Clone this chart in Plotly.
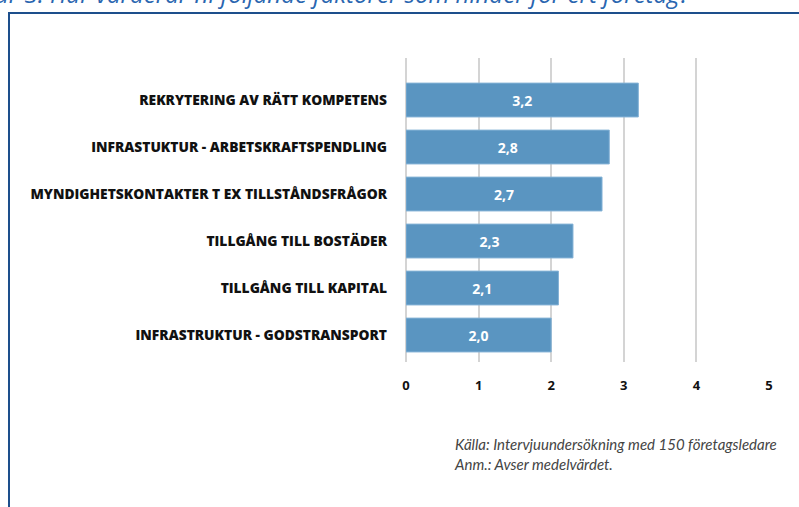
import plotly.graph_objects as go

categories = [
    "REKRYTERING AV RÄTT KOMPETENS",
    "INFRASTUKTUR - ARBETSKRAFTSPENDLING",
    "MYNDIGHETSKONTAKTER T EX TILLSTÅNDSFRÅGOR",
    "TILLGÅNG TILL BOSTÄDER",
    "TILLGÅNG TILL KAPITAL",
    "INFRASTRUKTUR - GODSTRANSPORT",
]
values = [3.2, 2.8, 2.7, 2.3, 2.1, 2.0]
value_labels = ["3,2", "2,8", "2,7", "2,3", "2,1", "2,0"]
x_ticks = [0, 1, 2, 3, 4, 5]

title_text = "Figur 3. Hur värderar ni följande faktorer som hinder för ert företag?"
source_text = "Källa: Intervjuundersökning med 150 företagsledare<br>Anm.: Avser medelvärdet."

W, H = 799, 507
L, R, T, B = 406, 30, 58, 145
pw, ph = W - L - R, H - T - B

fig = go.Figure(go.Bar(
    x=values, y=categories, orientation="h",
    marker=dict(color="#5a95c1", line=dict(color="#84b2d6", width=1)),
    text=value_labels, textposition="inside", insidetextanchor="middle",
    textfont=dict(color="white", size=14, family="Open Sans", weight="bold"),
    width=0.72, hoverinfo="skip",
))

fig.update_layout(
    width=W, height=H,
    margin=dict(l=L, r=R, t=T, b=B, autoexpand=False),
    paper_bgcolor="white", plot_bgcolor="white",
    showlegend=False,
    xaxis=dict(range=[0, 5], tickvals=x_ticks, showgrid=True, gridcolor="#d4d4d4", gridwidth=1.5,
               zeroline=True, zerolinecolor="#d4d4d4", zerolinewidth=1.5,
               tickfont=dict(family="Open Sans", size=13, color="#111", weight="bold"),
               ticks="", ticklabelstandoff=14, showline=False, fixedrange=True),
    yaxis=dict(categoryorder="array", categoryarray=categories, range=[5.574, -0.894],
               tickfont=dict(family="Open Sans", size=13.8, color="#111", weight=800),
               ticks="", ticklabelstandoff=18, showgrid=False, zeroline=False, showline=False),
    font=dict(family="Open Sans"),
)

# frame
fig.add_shape(type="rect", xref="paper", yref="paper",
              x0=(9 - L) / pw, x1=(W + 20 - L) / pw,
              y0=(H - B - (H + 20)) / ph, y1=(H - B - 13) / ph,
              line=dict(color="#1d4f8c", width=2), fillcolor="rgba(0,0,0,0)", layer="below")

fig.add_annotation(text=title_text, xref="paper", yref="paper", x=0, y=1,
                   xanchor="left", yanchor="bottom", showarrow=False,
                   xshift=-443, yshift=T - 12,
                   font=dict(family="Open Sans", size=24, color="#2a66b0", style="italic"))

fig.add_annotation(text=source_text, xref="paper", yref="paper", x=(452 - L) / pw, y=0,
                   xanchor="left", yanchor="top", align="left", showarrow=False, yshift=-71,
                   font=dict(family="Lato", size=15, color="#444", style="italic"))

fig.write_html("out.html")
